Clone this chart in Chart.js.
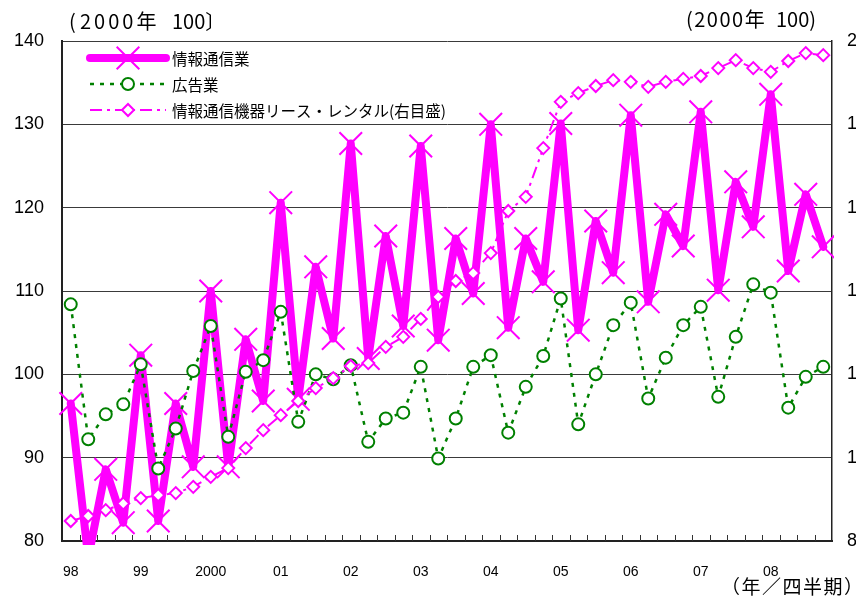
<!DOCTYPE html>
<html>
<head>
<meta charset="utf-8">
<script src="https://cdn.jsdelivr.net/npm/chart.js@4.4.1/dist/chart.umd.min.js"></script>
<style>
body { margin: 0; background: #fff; }
canvas { display: block; }
</style>
</head>
<body>
<canvas id="chart" width="856" height="598"></canvas>
<script>
// quarterly, 1998 Q1 - 2008 Q4
const tickLabels = [
  '98', '', '', '', '99', '', '', '', '2000', '', '', '',
  '01', '', '', '', '02', '', '', '', '03', '', '', '',
  '04', '', '', '', '05', '', '', '', '06', '', '', '',
  '07', '', '', '', '08', '', '', ''
]
const seriesNames = ['情報通信業', '広告業', '情報通信機器リース・レンタル(右目盛)']

const tsushin = [
  96.5, 78.0, 88.6, 82.2, 102.3, 82.4, 96.5, 88.9,
  110.0, 88.9, 104.2, 96.8, 120.6, 97.0, 112.9, 104.3,
  127.7, 101.9, 116.6, 105.8, 127.4, 104.1, 116.3, 109.7,
  130.0, 105.6, 116.3, 111.1, 130.1, 105.3, 118.4, 112.2,
  131.1, 108.7, 119.2, 115.4, 131.5, 110.1, 123.1, 117.7,
  133.6, 112.4, 121.6, 115.3
]
const kokoku = [
  108.4, 92.2, 95.2, 96.4, 101.2, 88.7, 93.5, 100.4,
  105.8, 92.5, 100.3, 101.7, 107.5, 94.3, 100.0, 99.4,
  101.1, 91.9, 94.7, 95.4, 100.9, 89.9, 94.7, 100.9,
  102.3, 93.0, 98.5, 102.2, 109.1, 94.0, 100.0, 105.9,
  108.6, 97.1, 102.0, 105.9, 108.1, 97.3, 104.5, 110.8,
  109.8, 96.0, 99.7, 100.9
]
const lease = [
  84.8, 86.0, 87.4, 89.0, 90.3, 91.0, 91.5, 93.0,
  95.4, 97.5, 102.3, 106.6, 110.2, 113.6, 116.7, 119.1,
  122.0, 122.7, 126.6, 129.0, 133.3, 138.6, 142.4, 144.3,
  149.1, 159.2, 162.6, 174.3, 185.4, 187.5, 189.2, 190.6,
  190.2, 189.0, 190.2, 190.9, 191.6, 193.5, 195.4, 193.5,
  192.6, 195.2, 197.1, 196.6
]

const PINK = '#ff00ff'
const GREEN = '#008000'
const JP = '"Noto Sans CJK JP", sans-serif'

Chart.defaults.font.family = '"Liberation Sans", Arial, sans-serif'
Chart.defaults.color = '#000'

// small inside ticks on the category axis
const quarterTicks = {
  id: 'quarterTicks',
  beforeDatasetsDraw(chart) {
    const ctx = chart.ctx
    const xs = chart.scales.x
    const w = xs.getPixelForValue(1) - xs.getPixelForValue(0)
    const bottom = chart.chartArea.bottom
    ctx.save()
    ctx.strokeStyle = '#333'
    ctx.lineWidth = 1
    ctx.beginPath()
    for (let i = 1; i < tickLabels.length; i++) {
      let px = Math.round(xs.getPixelForValue(i) - w / 2) + 0.5
      ctx.moveTo(px, bottom)
      ctx.lineTo(px, bottom - 6)
    }
    ctx.stroke()
    ctx.restore()
  }
}

// legend with line + marker and extra texts
const extras = {
  id: 'extras',
  afterDraw(chart) {
    const ctx = chart.ctx
    const rows = [58, 84, 110]
    ctx.save()
    chart.data.datasets.forEach((ds, i) => {
      let y = rows[i]
      ctx.strokeStyle = ds.borderColor
      ctx.lineWidth = ds.borderWidth
      ctx.lineCap = ds.borderCapStyle || 'butt'
      ctx.setLineDash(ds.borderDash || [])
      ctx.beginPath()
      ctx.moveTo(90, y)
      ctx.lineTo(166, y)
      ctx.stroke()
      ctx.setLineDash([])
      ctx.lineCap = 'butt'
      ctx.fillStyle = ds.pointBackgroundColor
      ctx.strokeStyle = ds.pointBorderColor
      ctx.lineWidth = ds.pointBorderWidth
      Chart.helpers.drawPoint(ctx, {
        pointStyle: ds.pointStyle, radius: ds.pointRadius,
        borderWidth: ds.pointBorderWidth, rotation: 0
      }, 128, y)
      ctx.fillStyle = '#000'
      ctx.font = '15.5px ' + JP
      ctx.textBaseline = 'middle'
      ctx.textAlign = 'left'
      ctx.fillText(seriesNames[i], 172, y + 1)
    })

    ctx.fillStyle = '#000'
    ctx.textBaseline = 'middle'
    ctx.textAlign = 'left'
    ctx.font = '20px ' + JP
    // left title (wide digits in the original)
    ctx.fillText('(', 69, 21)
    ctx.letterSpacing = '3px'
    ctx.fillText('2000年', 80, 21)
    ctx.letterSpacing = '0px'
    ctx.fillText('100〕', 172, 21)
    // right title
    ctx.letterSpacing = '1.5px'
    ctx.fillText('(2000年', 686, 19)
    ctx.letterSpacing = '0px'
    ctx.fillText('100)', 776, 19)
    ctx.font = '19px ' + JP
    ctx.letterSpacing = '1.5px'
    ctx.fillText('（年／四半期）', 721, 587)
    ctx.restore()
  }
}

new Chart(document.getElementById('chart'), {
  type: 'line',
  data: {
    labels: tickLabels,
    datasets: [
      {
        label: seriesNames[0],
        data: tsushin,
        yAxisID: 'y',
        borderColor: PINK,
        borderWidth: 8,
        borderCapStyle: 'round',
        borderJoinStyle: 'round',
        pointStyle: 'crossRot',
        pointRadius: 16,
        pointBorderWidth: 2,
        pointBorderColor: PINK,
        pointBackgroundColor: PINK,
        tension: 0,
        clip: { left: 20, top: 20, right: 2, bottom: 4 },
        order: 3
      },
      {
        label: seriesNames[1],
        data: kokoku,
        yAxisID: 'y',
        borderColor: GREEN,
        borderWidth: 2.5,
        borderDash: [4, 6],
        pointStyle: 'circle',
        pointRadius: 6,
        pointBorderWidth: 2,
        pointBorderColor: GREEN,
        pointBackgroundColor: '#fff',
        tension: 0,
        order: 2
      },
      {
        label: seriesNames[2],
        data: lease,
        yAxisID: 'y1',
        borderColor: PINK,
        borderWidth: 2,
        borderDash: [12, 5, 3, 5],
        pointStyle: 'rectRot',
        pointRadius: 6,
        pointBorderWidth: 2,
        pointBorderColor: PINK,
        pointBackgroundColor: '#fff',
        tension: 0,
        order: 1
      }
    ]
  },
  options: {
    responsive: false,
    animation: false,
    events: [],
    layout: { padding: { top: 41, left: 0, right: 0, bottom: 0 } },
    plugins: { legend: { display: false }, tooltip: { enabled: false } },
    scales: {
      x: {
        offset: true,
        grid: { display: false, drawTicks: false },
        border: { display: true, color: '#222', width: 2 },
        ticks: { autoSkip: false, maxRotation: 0, padding: 23, font: { size: 14 } },
        afterFit: s => { s.height = 57 }
      },
      y: {
        position: 'left',
        min: 80, max: 140,
        ticks: { stepSize: 10, padding: 18, font: { size: 18 } },
        grid: { color: '#3a3a3a', lineWidth: 1, drawTicks: false },
        border: { display: true, color: '#222', width: 2 },
        afterFit: s => { s.width = 62 }
      },
      y1: {
        position: 'right',
        min: 80, max: 200,
        ticks: { stepSize: 20, padding: 15, font: { size: 18 } },
        grid: { drawOnChartArea: false, drawTicks: false },
        border: { display: true, color: '#222', width: 1.5 },
        afterFit: s => { s.width = 24 }
      }
    }
  },
  plugins: [quarterTicks, extras]
})
</script>
</body>
</html>
